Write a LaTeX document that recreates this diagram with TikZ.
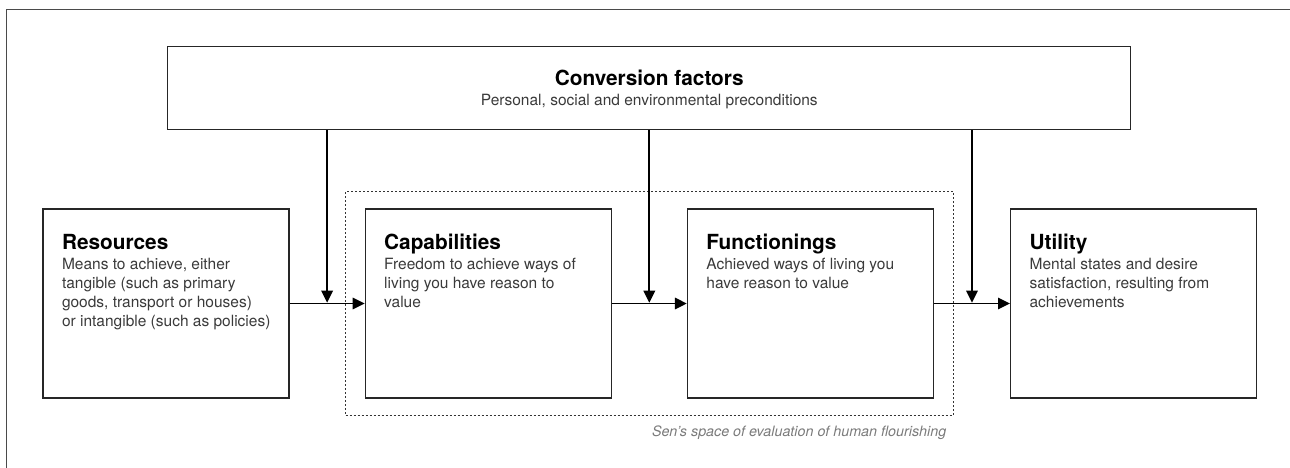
\documentclass[tikz,border=0pt]{standalone}
\usepackage{fontspec}
\setmainfont{TeX Gyre Heros}
\usetikzlibrary{arrows.meta, positioning, fit, calc}

\definecolor{bodygray}{HTML}{3A3A3A}
\definecolor{notegray}{HTML}{7A7A7A}
\definecolor{framegray}{HTML}{4A4A4A}

\newcommand{\headfont}{\fontsize{20.8}{24}\selectfont\bfseries}
\newcommand{\descfont}{\fontsize{15.5}{19}\selectfont\color{bodygray}}
% title + description, top left inside a stage box
\newcommand{\stagetext}[2]{\parbox[c][189pt][t]{246pt}{\raggedright\leftskip=19pt
  \rule{0pt}{40pt}{\headfont #1}\par\vspace{1pt}{\noindent\descfont #2\par}}}

\tikzstyle{block} = [rectangle, draw=black!85, line width=1.2pt, inner sep=0pt, minimum width=246pt, minimum height=189pt]
\tikzstyle{line} = [draw, line width=1.7pt, -{Triangle[length=12pt, width=11.5pt]}]

\begin{document}
\begin{tikzpicture}[x=1pt, y=-1pt, node distance=75pt]
        \useasboundingbox (0,0) rectangle (1290,468);
        \draw [framegray, line width=1pt] (6,480) -- (6,10) -- (1300,10);

        % Nodes
        \node [block] (res) at (166,303.5) {\stagetext{Resources}{Means to achieve, either\\ tangible (such as primary\\ goods, transport or houses)\\ or intangible (such as policies)}};
        \node [block, right=of res] (cap) {\stagetext{Capabilities}{Freedom to achieve ways of\\ living you have reason to\\ value}};
        \node [block, right=of cap] (fun) {\stagetext{Functionings}{Achieved ways of living you\\ have reason to value}};
        \node [block, right=76pt of fun] (util) {\stagetext{Utility}{Mental states and desire\\ satisfaction, resulting from\\ achievements}};
        \coordinate (mid) at ($(cap.north)!0.5!(fun.north)$);
        \node [block, minimum width=963pt, minimum height=83pt, above=78pt of mid] (conv) {\parbox[c][83pt][t]{963pt}{\centering\rule{0pt}{39pt}{\headfont Conversion factors}\par\vspace{1pt}{\descfont Personal, social and environmental preconditions\par}}};
        \node [draw=black!80, line width=0.9pt, dash pattern=on 2pt off 2pt, fit=(cap) (fun), inner xsep=19pt, inner ysep=17pt] (sen) {};
        \node [anchor=base east, xshift=-7pt, yshift=-20pt, inner sep=0pt, text=notegray, font=\fontsize{14.3}{17}\selectfont\itshape] (senlabel) at (sen.south east) {Sen’s space of evaluation of human flourishing};

        % Lines
        \coordinate (j1) at ($(res.east)!0.5!(cap.west)$);
        \coordinate (j2) at ($(cap.east)!0.5!(fun.west)$);
        \coordinate (j3) at ($(fun.east)!0.5!(util.west)$);
        \path [line] (res) -- (cap);
        \path [line] (cap) -- (fun);
        \path [line] (fun) -- (util);
        \path [line, shorten >=0.8pt] (conv.south -| j1) -- (j1);
        \path [line, shorten >=0.8pt] (conv.south -| j2) -- (j2);
        \path [line, shorten >=0.8pt] (conv.south -| j3) -- (j3);
\end{tikzpicture}
\end{document}
